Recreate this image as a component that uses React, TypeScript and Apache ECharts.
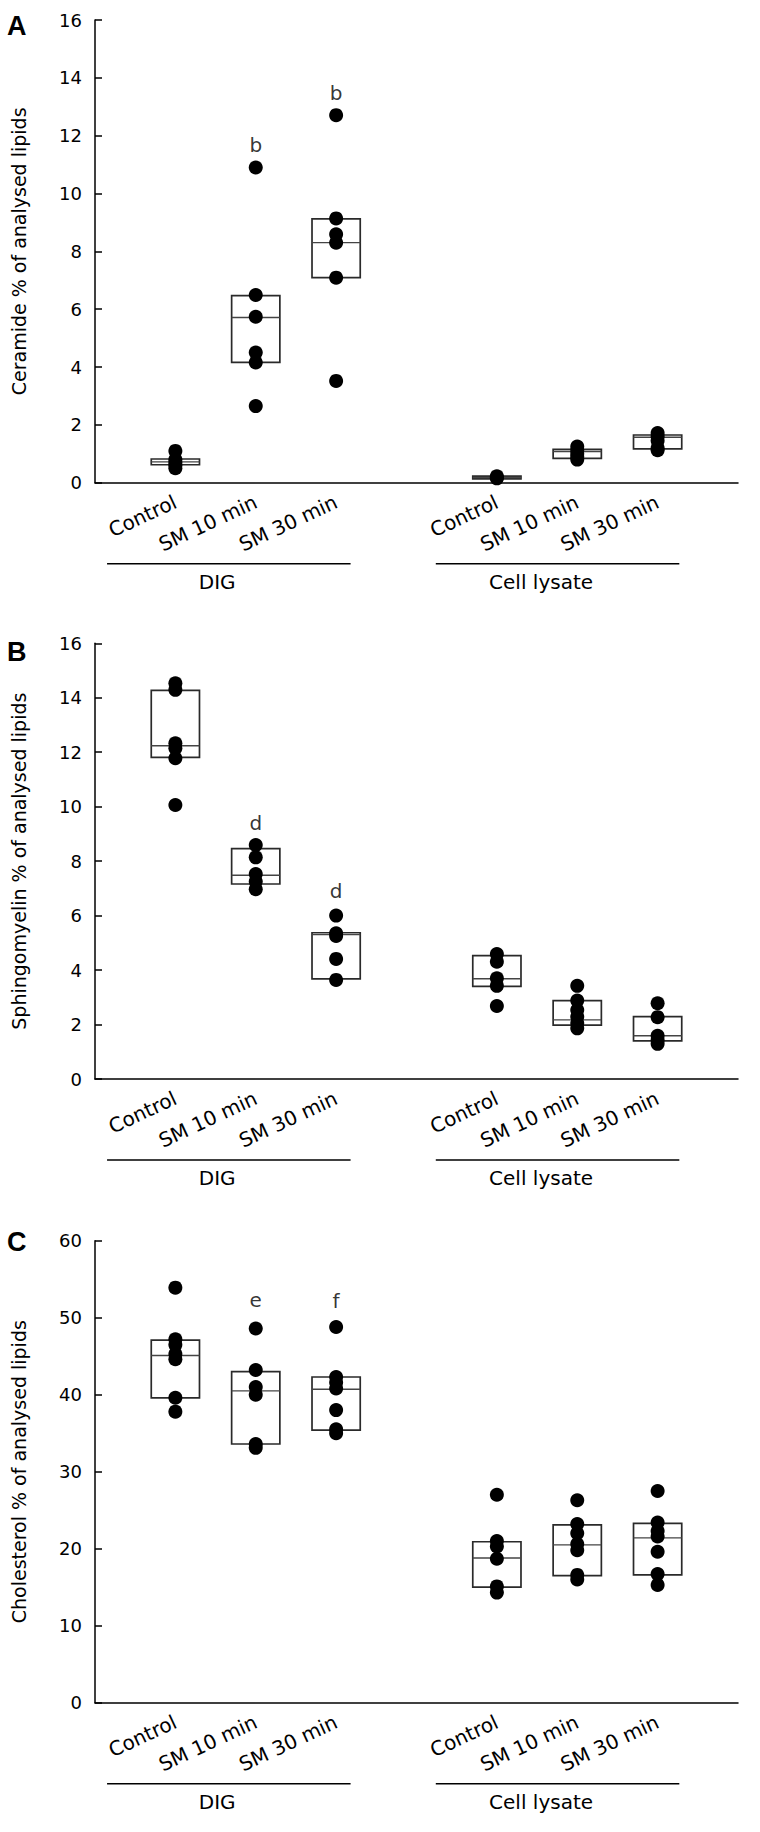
import React, { useEffect, useRef } from "react";
import * as echarts from "echarts";

const FONT = "DejaVu Sans";

const categories = ["Control", "SM 10 min", "SM 30 min"];
const groups = ["DIG", "Cell lysate"];
const panelLetters = ["A", "B", "C"];
const yTitles = [
  "Ceramide % of analysed lipids",
  "Sphingomyelin % of analysed lipids",
  "Cholesterol % of analysed lipids",
];
const yMax = [16, 16, 60];
const yStep = [2, 2, 10];

// Panel A – ceramide: individual values
const ceramideDIG = [
  [1.1, 0.8, 0.7, 0.6, 0.5],
  [10.9, 6.49, 5.74, 4.5, 4.16, 2.65],
  [12.71, 9.14, 8.59, 8.3, 7.09, 3.52],
];
const ceramideLysate = [
  [0.22, 0.18, 0.15],
  [1.25, 1.12, 1.0, 0.9, 0.8],
  [1.72, 1.6, 1.45, 1.2, 1.12],
];
// boxes: [low, median, high]
const ceramideBoxDIG = [
  [0.62, 0.72, 0.82],
  [4.16, 5.71, 6.47],
  [7.09, 8.3, 9.12],
];
const ceramideBoxLysate = [
  [0.13, 0.18, 0.23],
  [0.84, 1.08, 1.15],
  [1.17, 1.57, 1.65],
];

// Panel B – sphingomyelin
const sphingoDIG = [
  [14.53, 14.29, 12.33, 12.15, 11.78, 10.06],
  [8.59, 8.14, 7.53, 7.25, 6.97],
  [6.0, 5.35, 5.25, 4.41, 3.64],
];
const sphingoLysate = [
  [4.59, 4.31, 3.7, 3.42, 2.68],
  [3.42, 2.88, 2.53, 2.29, 2.05, 1.86],
  [2.78, 2.27, 1.59, 1.43, 1.29],
];
const sphingoBoxDIG = [
  [11.81, 12.24, 14.27],
  [7.16, 7.48, 8.46],
  [3.68, 5.3, 5.37],
];
const sphingoBoxLysate = [
  [3.4, 3.68, 4.53],
  [1.98, 2.17, 2.88],
  [1.4, 1.59, 2.29],
];

// Panel C – cholesterol
const cholDIG = [
  [53.9, 47.2, 46.5, 45.3, 44.6, 39.6, 37.8],
  [48.6, 43.2, 41.0, 40.0, 33.6, 33.1],
  [48.8, 42.3, 41.6, 40.8, 38.0, 35.5, 35.0],
];
const cholLysate = [
  [27.0, 21.0, 20.3, 18.7, 15.1, 14.3],
  [26.3, 23.2, 22.0, 20.6, 19.8, 16.6, 16.0],
  [27.5, 23.4, 22.3, 21.6, 19.6, 16.7, 15.3],
];
const cholBoxDIG = [
  [39.6, 45.1, 47.1],
  [33.6, 40.5, 43.0],
  [35.4, 40.7, 42.3],
];
const cholBoxLysate = [
  [15.0, 18.8, 20.9],
  [16.5, 20.5, 23.1],
  [16.6, 21.4, 23.3],
];

// significance letters: [category index in DIG, y value, letter]
const annotA = [
  [1, 11.68, "b"],
  [2, 13.49, "b"],
];
const annotB = [
  [1, 9.39, "d"],
  [2, 6.9, "d"],
];
const annotC = [
  [1, 52.3, "e"],
  [2, 52.2, "f"],
];

const panels = [
  { dots: [ceramideDIG, ceramideLysate], boxes: [ceramideBoxDIG, ceramideBoxLysate], annot: annotA },
  { dots: [sphingoDIG, sphingoLysate], boxes: [sphingoBoxDIG, sphingoBoxLysate], annot: annotB },
  { dots: [cholDIG, cholLysate], boxes: [cholBoxDIG, cholBoxLysate], annot: annotC },
];

// layout
const gridTops = [20, 643.3, 1240.7];
const gridHeights = [462.7, 435.7, 462];
const GRID_LEFT = 95;
const GRID_WIDTH = 643;
const GROUP_SLOT = 4; // x position = group * 4 + category
const groupLineSpan = [
  [-0.85, 2.18],
  [3.24, 6.27],
];
const groupLabelCenter = [0.52, 4.55];

function pos(g: number, c: number) {
  return g * GROUP_SLOT + c;
}

export default function App() {
  const ref = useRef<HTMLDivElement>(null);
  useEffect(() => {
    if (!ref.current) return;
    const chart = echarts.init(ref.current, null, { renderer: "svg" });

    const grids: any[] = [];
    const xAxes: any[] = [];
    const yAxes: any[] = [];
    const series: any[] = [];

    panels.forEach((p, i) => {
      grids.push({ left: GRID_LEFT, top: gridTops[i], width: GRID_WIDTH, height: gridHeights[i] });
      xAxes.push({
        type: "value",
        gridIndex: i,
        min: -1,
        max: 7,
        interval: 1,
        splitLine: { show: false },
        axisTick: { show: false },
        axisLine: { show: true, onZero: false, lineStyle: { color: "#000", width: 1.5 } },
        axisLabel: {
          rotate: 25,
          margin: 18,
          fontSize: 20,
          fontFamily: FONT,
          color: "#000",
          showMinLabel: true,
          showMaxLabel: true,
          formatter: (v: number) => {
            const g = Math.floor(v / GROUP_SLOT);
            const c = v - g * GROUP_SLOT;
            if (g < 0 || g >= groups.length || c < 0 || c >= categories.length) return "";
            return categories[c];
          },
        },
      });
      yAxes.push({
        type: "value",
        gridIndex: i,
        min: 0,
        max: yMax[i],
        interval: yStep[i],
        splitLine: { show: false },
        axisLine: { show: true, onZero: false, lineStyle: { color: "#000", width: 1.5 } },
        axisTick: { show: true, inside: true, length: 7, lineStyle: { color: "#000", width: 1.5 } },
        axisLabel: { fontSize: 18, fontFamily: FONT, color: "#000", margin: 13 },
        name: yTitles[i],
        nameLocation: "middle",
        nameGap: 67,
        nameTextStyle: { fontSize: 19, fontFamily: FONT, color: "#000" },
      });

      const boxData: number[][] = [];
      const dotData: number[][] = [];
      p.boxes.forEach((gb, g) =>
        gb.forEach((b, c) => boxData.push([pos(g, c), b[0], b[1], b[2]]))
      );
      p.dots.forEach((gd, g) =>
        gd.forEach((vals, c) => vals.forEach((v) => dotData.push([pos(g, c), v])))
      );

      series.push({
        type: "custom",
        xAxisIndex: i,
        yAxisIndex: i,
        data: boxData,
        encode: { x: 0, y: [1, 2, 3] },
        z: 2,
        renderItem: (params: any, api: any) => {
          const x = api.value(0);
          const lo = api.coord([x, api.value(1)]);
          const md = api.coord([x, api.value(2)]);
          const hi = api.coord([x, api.value(3)]);
          const w = api.size([0.6, 0])[0];
          return {
            type: "group",
            children: [
              {
                type: "rect",
                shape: { x: hi[0] - w / 2, y: hi[1], width: w, height: lo[1] - hi[1] },
                style: { fill: "#fff", stroke: "#2a2a2a", lineWidth: 1.7 },
              },
              {
                type: "line",
                shape: { x1: md[0] - w / 2, y1: md[1], x2: md[0] + w / 2, y2: md[1] },
                style: { stroke: "#444", lineWidth: 1.4 },
              },
            ],
          };
        },
      });
      series.push({
        type: "scatter",
        xAxisIndex: i,
        yAxisIndex: i,
        data: dotData,
        symbol: "circle",
        symbolSize: 14,
        itemStyle: { color: "#000", opacity: 1 },
        z: 5,
      });
      series.push({
        type: "scatter",
        xAxisIndex: i,
        yAxisIndex: i,
        data: p.annot.map((a) => ({ value: [pos(0, a[0] as number), a[1]], name: a[2] })),
        symbolSize: 1,
        itemStyle: { color: "rgba(0,0,0,0)" },
        label: {
          show: true,
          position: "inside",
          formatter: "{b}",
          fontSize: 20,
          fontFamily: FONT,
          color: "#000",
        },
        z: 6,
      });
    });

    chart.setOption({
      animation: false,
      backgroundColor: "#fff",
      grid: grids,
      xAxis: xAxes,
      yAxis: yAxes,
      series,
    });

    const graphics: any[] = [];
    const letterTops = [12, 638, 1228];
    panels.forEach((p, i) => {
      graphics.push({
        type: "text",
        left: 7,
        top: letterTops[i],
        style: {
          text: panelLetters[i],
          fontSize: 27,
          fontWeight: "bold",
          fontFamily: "Liberation Sans",
          fill: "#000",
        },
      });
      const axisY = gridTops[i] + gridHeights[i];
      groups.forEach((gname, g) => {
        const x1 = chart.convertToPixel({ xAxisIndex: i }, groupLineSpan[g][0]) as number;
        const x2 = chart.convertToPixel({ xAxisIndex: i }, groupLineSpan[g][1]) as number;
        const xc = chart.convertToPixel({ xAxisIndex: i }, groupLabelCenter[g]) as number;
        graphics.push({
          type: "line",
          shape: { x1, y1: axisY + 81, x2, y2: axisY + 81 },
          style: { stroke: "#000", lineWidth: 1.5 },
        });
        graphics.push({
          type: "text",
          x: xc,
          y: axisY + 99,
          style: {
            text: gname,
            fontSize: 20,
            fontFamily: FONT,
            fill: "#000",
            textAlign: "center",
            textVerticalAlign: "middle",
          },
        });
      });
    });
    chart.setOption({ graphic: graphics });

    return () => chart.dispose();
  }, []);

  return (
    <div
      ref={ref}
      style={{ position: "absolute", left: 0, top: 0, width: 760, height: 1832, background: "#fff" }}
    />
  );
}
